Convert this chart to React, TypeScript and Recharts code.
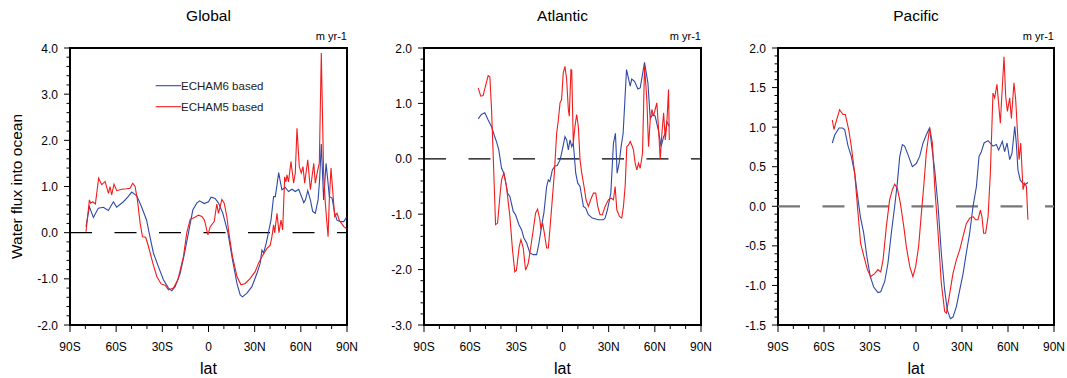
import { Line, LineChart, ReferenceArea, ReferenceLine, XAxis, YAxis } from "recharts";

const FONT = '"Liberation Sans", Arial, Helvetica, sans-serif';
const BLUE = "#2f4aa6";
const RED = "#f21c1c";

// latitude ticks (every 10 deg, labelled every 30 deg)
const latTicks = [-90, -80, -70, -60, -50, -40, -30, -20, -10, 0, 10, 20, 30, 40, 50, 60, 70, 80, 90];
const latLabels = [-90, -60, -30, 0, 30, 60, 90];

// Global
const globalE6Lat = [-79.6, -77.4, -74.8, -71.6, -68.3, -65.1, -61.8, -59.7, -55.3, -52.5, -49.9, -46.6, -43.4, -40.2, -38.6, -35.8, -32.5, -29.3, -26, -23.8, -21.7, -18.4, -15.6, -13, -10.2, -7.6, -5.8, -2.8, 0, 1.7, 4.3, 6.5, 9.3, 12.6, 15.6, 18.5, 20.6, 22.1, 25, 28.2, 31.5, 33.6, 34.7, 35.8, 37.5, 39.3, 40.6, 42.3, 43.4, 44.5, 45.6, 46.7, 47.7, 49.9, 52, 54.2, 56.4, 58.6, 60.8, 61.9, 63, 64.5, 66.2, 67.7, 69.4, 71.2, 72.2, 73.3, 74.8, 76.4, 77.5, 78.5, 80.3, 82, 83.5, 85.7, 87.9, 89.6];
const globalE6Val = [0.13, 0.56, 0.33, 0.53, 0.55, 0.48, 0.67, 0.55, 0.67, 0.77, 0.88, 0.8, 0.55, 0.27, 0, -0.44, -0.74, -1.02, -1.2, -1.26, -1.17, -0.88, -0.45, 0, 0.49, 0.64, 0.69, 0.63, 0.67, 0.77, 0.74, 0.64, 0.42, 0, -0.59, -1.1, -1.35, -1.39, -1.31, -1.17, -0.88, -0.66, -0.38, -0.44, -0.23, 0.06, 0.27, 0.78, 0.78, 1.03, 1.3, 1.1, 0.93, 0.98, 0.89, 0.94, 0.89, 0.94, 0.75, 0.65, 0.71, 0.91, 0.71, 0.46, 0.42, 0.71, 1.14, 1.92, 0.71, 1.5, 1.14, 0.78, 0.75, 0.42, 0.27, 0.24, 0.24, 0.33];
const globalE5Lat = [-79.6, -77.4, -76.6, -75.3, -73.5, -71.4, -69.4, -67.2, -65, -64, -62.9, -61.4, -59.6, -56.4, -53.1, -51, -49.2, -47.7, -46.2, -44.4, -42.9, -40.8, -39, -36.2, -33.6, -30.8, -28.2, -26, -22.8, -19.9, -16.3, -14.1, -11.9, -9.1, -6.5, -4.3, -2.6, -0.4, 1.1, 3.7, 5.4, 6.5, 8.7, 10.2, 11.9, 13.2, 15.6, 18.5, 21.1, 23.9, 27.1, 30.4, 32.5, 34.7, 38, 40.1, 41.2, 42.3, 43, 44.5, 45.8, 47.1, 48.2, 49.5, 50.3, 51, 52, 53.6, 55.3, 56.4, 57.5, 59, 60.3, 61.4, 62.5, 64.5, 66.2, 68.4, 69.4, 71, 72, 73.3, 74.8, 75.9, 77.7, 78.5, 79.6, 82, 83.5, 85, 87.9, 89.6];
const globalE5Val = [0.02, 0.71, 0.64, 0.67, 0.62, 1.18, 1.04, 1.11, 0.85, 1.0, 0.82, 1.05, 0.91, 0.94, 0.95, 0.96, 1.07, 1.0, 0.71, 0.2, -0.09, -0.1, -0.3, -0.66, -0.95, -1.11, -1.14, -1.24, -1.2, -1.02, -0.52, 0, 0.29, 0.33, 0.38, 0.35, 0.27, -0.05, 0.13, 0.24, 0.62, 0.42, 0.72, 0.64, 0.35, 0, -0.52, -0.95, -1.13, -1.1, -0.99, -0.84, -0.66, -0.52, -0.34, -0.27, -0.09, 0.17, 0, 0.42, 0, 0.27, 0.06, 1.21, 1.1, 1.25, 1.1, 1.54, 1.07, 1.29, 2.26, 1.43, 1.29, 1.43, 1.07, 1.58, 0.93, 1.5, 1.07, 1.36, 1.5, 3.89, 1.29, 0.64, -0.09, 0.71, 1.4, 0.35, 0.42, 0.27, 0.13, 0.09];

// Atlantic
const atlE6Lat = [-54.8, -52.7, -50.5, -48.3, -46.1, -44.4, -42.9, -41.4, -39.6, -38.1, -37, -35.7, -34.2, -32, -30.5, -28.3, -26.6, -25.1, -23.3, -21.2, -19, -16.8, -15.3, -13.1, -12.1, -10.3, -9.2, -8.2, -6.6, -4.9, -3.4, -1.6, -0.6, 1.6, 2.7, 3.8, 4.9, 6, 7, 8.6, 9.9, 11.4, 12.5, 13.6, 15.1, 16.8, 19.4, 23.3, 26.6, 27.7, 29.2, 31.4, 33.1, 34.4, 35.5, 36.8, 38.1, 39.4, 41.6, 44, 45, 46.8, 49, 50.5, 53.3, 55.5, 57, 58.7, 60.2, 62.4, 64.1, 65.7, 66.8, 67.8, 69.4];
const atlE6Val = [0.72, 0.8, 0.83, 0.7, 0.58, 0.43, 0.31, 0.16, -0.17, -0.26, -0.41, -0.62, -0.68, -0.95, -1.01, -1.19, -1.28, -1.43, -1.52, -1.7, -1.73, -1.73, -1.52, -1.13, -0.98, -0.5, -0.38, -0.41, -0.2, -0.13, -0.12, -0.02, 0.1, 0.4, 0.34, 0.16, 0.34, 0.22, 0.29, -0.26, -0.44, -0.5, -0.68, -0.86, -0.89, -1.01, -1.07, -1.1, -1.1, -1.07, -0.92, -0.62, 0.28, 0.46, -0.26, -0.08, 0.22, 0.46, 1.61, 1.31, 1.44, 1.4, 1.26, 1.28, 1.74, 1.37, 0.73, 0.8, 0.77, 0.5, 0.22, 0.4, 0.46, 0.67, 0.59];
const atlE5Lat = [-54.8, -53.1, -51.6, -49.8, -48.3, -47.2, -46.1, -45, -43.5, -42.2, -40.7, -39.6, -38.1, -36.4, -34.2, -32.5, -31, -29.9, -28.1, -27, -25.5, -24, -22.3, -21.2, -19, -17.5, -16.2, -14.7, -14, -12.9, -11.8, -10.3, -9.2, -7.5, -5.3, -3.8, -2.7, -1.6, -0.6, 0.5, 1.6, 2.7, 3.8, 4.4, 5.5, 6, 7, 8.1, 9.2, 10.3, 11.4, 12.5, 14, 15.3, 16.8, 18.3, 20.1, 21.6, 22.9, 24.4, 25.9, 27.7, 29.8, 31.6, 33.1, 34.2, 35.3, 37, 38.5, 39.6, 40.7, 41.8, 42.9, 44, 45, 46.1, 47.2, 48.3, 49.4, 50.5, 52, 53.3, 54.8, 55.9, 57, 58.1, 59.1, 60.2, 61.3, 62.4, 63.5, 64.6, 65.7, 66.8, 67.8, 68.9, 69.4];
const atlE5Val = [1.28, 1.13, 1.14, 1.34, 1.5, 1.48, 0.89, 0.04, -1.19, -1.16, -0.68, -0.38, -0.26, -0.5, -1.04, -1.64, -2.04, -2.01, -1.58, -1.46, -1.61, -2.01, -1.89, -1.7, -1.28, -0.98, -0.91, -1.1, -1.28, -1.16, -1.34, -1.61, -1.61, -1.04, -0.26, 0.46, 0.7, 1.01, 1.07, 1.55, 1.67, 1.43, 0.89, 0.77, 1.61, 1.6, 0.28, 0.58, 0.8, 0.58, -0.02, -0.26, -0.5, -0.74, -0.86, -0.74, -0.62, -0.62, -0.86, -1.01, -1.01, -0.86, -0.74, -0.71, -0.74, -0.5, -0.92, -1.04, -1.07, -0.86, -0.5, 0.22, 0.25, 0.31, 0.25, 0.16, -0.08, -0.2, -0.08, -0.17, 0.1, 1.67, 1.07, 0.22, 0.7, 0.89, 0.77, 0.89, 1.01, 0.55, -0.01, 0.46, 0.83, 0.34, 0.64, 1.25, 0.34];

// Pacific
const pacE6Lat = [-54.6, -53, -50.2, -48, -46.5, -44.3, -42.2, -40, -38.3, -36.3, -34.1, -32, -29.8, -27.6, -24.8, -23, -20.4, -18.3, -16.1, -13.9, -12.2, -10.6, -8.9, -7.4, -5.2, -2.4, 0.2, 2.4, 4.6, 6.7, 8.3, 8.9, 10, 12.2, 14.4, 16.5, 18.7, 20.4, 22.4, 24.1, 26.3, 28.5, 30.7, 32.8, 35, 37.2, 39.4, 41.1, 42.6, 44.4, 47, 50.2, 52.4, 53.9, 56.3, 57.8, 59.4, 61.1, 62.6, 64.4, 65.4, 66.5, 68, 69.8, 70.9, 73];
const pacE6Val = [0.8, 0.9, 0.99, 0.99, 0.97, 0.76, 0.63, 0.42, 0.16, -0.13, -0.34, -0.64, -0.89, -1.02, -1.09, -1.08, -0.95, -0.72, -0.34, 0, 0.29, 0.63, 0.78, 0.76, 0.65, 0.5, 0.54, 0.63, 0.8, 0.9, 0.97, 0.99, 0.8, 0.46, 0, -0.59, -1.06, -1.31, -1.42, -1.4, -1.27, -1.06, -0.85, -0.59, -0.34, 0, 0.25, 0.63, 0.69, 0.8, 0.83, 0.76, 0.78, 0.71, 0.82, 0.69, 0.8, 0.59, 0.67, 1.01, 0.8, 0.46, 0.33, 0.29, 0.27, 0.3];
const pacE5Lat = [-54.6, -53.5, -51.5, -49.8, -47.6, -46.1, -43.9, -42.2, -40, -37.8, -36.1, -33.9, -31.7, -29.6, -27, -24.8, -23, -21.5, -19.3, -17.2, -15.4, -13.9, -12.2, -10.2, -8, -6.3, -4.1, -2, -0.2, 1.7, 3.5, 5.2, 6.7, 8.9, 10.7, 12.2, 14.4, 16.5, 18.7, 19.8, 22, 24.1, 26.3, 28.5, 30.7, 32.8, 35, 37.2, 38.9, 40.4, 42, 43, 44.1, 45.4, 47, 48.5, 50.2, 51.3, 52.8, 55, 56.3, 57.4, 58.5, 59.6, 61.1, 62.2, 63.9, 65, 67.2, 68.3, 69.8, 70.9, 72, 73];
const pacE5Val = [1.09, 0.97, 1.11, 1.22, 1.16, 1.16, 0.97, 0.76, 0.42, -0.09, -0.47, -0.64, -0.8, -0.89, -0.85, -0.8, -0.83, -0.68, -0.25, 0.08, 0.21, 0.28, 0.23, 0.04, -0.25, -0.51, -0.76, -0.89, -0.76, -0.51, -0.09, 0.29, 0.67, 0.99, 0.8, 0.25, -0.34, -0.97, -1.33, -1.35, -1.1, -0.85, -0.68, -0.55, -0.38, -0.22, -0.15, -0.13, -0.17, -0.17, -0.05, -0.13, -0.34, -0.34, -0.13, 0.42, 1.43, 1.37, 1.54, 1.05, 1.51, 1.89, 1.39, 1.2, 1.37, 1.11, 1.56, 1.35, 0.59, 0.8, 0.21, 0.29, 0.25, -0.17];

// labelled y ticks per panel
const globalYLabels = [-2, -1, 0, 1, 2, 3, 4];
const atlYLabels = [-3, -2, -1, 0, 1, 2];
const pacYLabels = [-1.5, -1, -0.5, 0, 0.5, 1, 1.5, 2];

const zip = (lat: number[], val: number[]) => lat.map((l, i) => ({ lat: l, v: val[i] }));

function steps(lo: number, hi: number, step: number) {
  const n = Math.round((hi - lo) / step);
  const out: number[] = [];
  for (let i = 0; i <= n; i++) out.push(+(lo + i * step).toFixed(3));
  return out;
}

const has = (list: number[], v: number) => list.some((m) => Math.abs(m - v) < 1e-6);

function latName(v: number) {
  if (v === 0) return "0";
  return v < 0 ? `${-v}S` : `${v}N`;
}

function XTick(props: any) {
  const { x, y, payload } = props;
  const major = has(latLabels, payload.value);
  return (
    <g>
      <line x1={x} x2={x} y1={y} y2={y + (major ? 7 : 4)} stroke="#000" strokeWidth={1} />
      {major && (
        <text x={x} y={y + 26} textAnchor="middle" fontSize={12} fontFamily={FONT} fill="#000">
          {latName(payload.value)}
        </text>
      )}
    </g>
  );
}

function YTick(props: any) {
  const { x, y, payload, labels } = props;
  const major = has(labels, payload.value);
  return (
    <g>
      <line x1={x - (major ? 6 : 3.5)} x2={x} y1={y} y2={y} stroke="#000" strokeWidth={1} />
      {major && (
        <text x={x - 12} y={y + 4.5} textAnchor="end" fontSize={12} fontFamily={FONT} fill="#000">
          {payload.value.toFixed(1)}
        </text>
      )}
    </g>
  );
}

type PanelProps = {
  left: number;
  width: number;
  axisWidth: number;
  right: number;
  title: string;
  domain: [number, number];
  labels: number[];
  minor: number;
  zeroColor: string;
  zeroWidth: number;
  e6: { lat: number; v: number }[];
  e5: { lat: number; v: number }[];
  yTitle?: boolean;
  legend?: boolean;
};

function Panel(p: PanelProps) {
  const H = 378;
  const top = 48;
  const xAxisH = 53;
  const plotL = p.axisWidth;
  const plotR = p.width - p.right;
  const mid = (plotL + plotR) / 2;
  const yTicks = steps(p.domain[0], p.domain[1], p.minor);
  return (
    <div style={{ position: "absolute", left: p.left, top: 0, width: p.width, height: H }}>
      <LineChart width={p.width} height={H} margin={{ top, right: p.right, bottom: 0, left: 0 }}>
        <XAxis
          dataKey="lat"
          type="number"
          domain={[-90, 90]}
          ticks={latTicks}
          interval={0}
          height={xAxisH}
          axisLine={false}
          tickLine={false}
          tickSize={0}
          tickMargin={0}
          allowDataOverflow
          tick={(t: any) => <XTick {...t} />}
        />
        <YAxis
          type="number"
          domain={p.domain}
          ticks={yTicks}
          interval={0}
          width={p.axisWidth}
          axisLine={false}
          tickLine={false}
          tickSize={0}
          tickMargin={0}
          allowDataOverflow
          tick={(t: any) => <YTick {...t} labels={p.labels} />}
        />
        <ReferenceLine y={0} stroke={p.zeroColor} strokeWidth={p.zeroWidth} strokeDasharray="22 22.5" />
        <Line data={p.e6} dataKey="v" stroke={BLUE} strokeWidth={1.1} dot={false} isAnimationActive={false} />
        <Line data={p.e5} dataKey="v" stroke={RED} strokeWidth={1.1} dot={false} isAnimationActive={false} />
        <ReferenceArea x1={-90} x2={90} y1={p.domain[0]} y2={p.domain[1]} fill="none" stroke="#000" strokeWidth={2} />
      </LineChart>
      <svg
        width={p.width}
        height={H}
        style={{ position: "absolute", left: 0, top: 0, pointerEvents: "none" }}
        fontFamily={FONT}
      >
        <text x={mid} y={21} textAnchor="middle" fontSize={15.5} fill="#000">
          {p.title}
        </text>
        <text x={plotR} y={40} textAnchor="end" fontSize={11} fill="#000">
          m yr-1
        </text>
        <text x={mid} y={374} textAnchor="middle" fontSize={16} fill="#000">
          lat
        </text>
        {p.yTitle && (
          <text x={21.5} y={186.5} transform="rotate(-90 21.5 186.5)" textAnchor="middle" fontSize={15.5} fill="#000">
            Water flux into ocean
          </text>
        )}
        {p.legend && (
          <g fontSize={11.5} fill="#222">
            <line x1={155.7} x2={181} y1={85.7} y2={85.7} stroke={BLUE} strokeWidth={1.1} />
            <text x={181} y={89.7}>ECHAM6 based</text>
            <line x1={155.7} x2={181} y1={106.7} y2={106.7} stroke={RED} strokeWidth={1.1} />
            <text x={181} y={110.7}>ECHAM5 based</text>
          </g>
        )}
      </svg>
    </div>
  );
}

export default function App() {
  return (
    <div style={{ position: "absolute", left: 0, top: 0, width: 1067, height: 378, background: "#fff", overflow: "hidden" }}>
      <Panel
        left={0}
        width={360}
        axisWidth={70}
        right={13}
        title="Global"
        domain={[-2, 4]}
        labels={globalYLabels}
        minor={0.2}
        zeroColor="#000"
        zeroWidth={1.2}
        e6={zip(globalE6Lat, globalE6Val)}
        e5={zip(globalE5Lat, globalE5Val)}
        yTitle
        legend
      />
      <Panel
        left={355}
        width={360}
        axisWidth={69}
        right={14}
        title="Atlantic"
        domain={[-3, 2]}
        labels={atlYLabels}
        minor={0.2}
        zeroColor="#000"
        zeroWidth={1.2}
        e6={zip(atlE6Lat, atlE6Val)}
        e5={zip(atlE5Lat, atlE5Val)}
      />
      <Panel
        left={710}
        width={357}
        axisWidth={68}
        right={13}
        title="Pacific"
        domain={[-1.5, 2]}
        labels={pacYLabels}
        minor={0.1}
        zeroColor="#777"
        zeroWidth={2.2}
        e6={zip(pacE6Lat, pacE6Val)}
        e5={zip(pacE5Lat, pacE5Val)}
      />
    </div>
  );
}
